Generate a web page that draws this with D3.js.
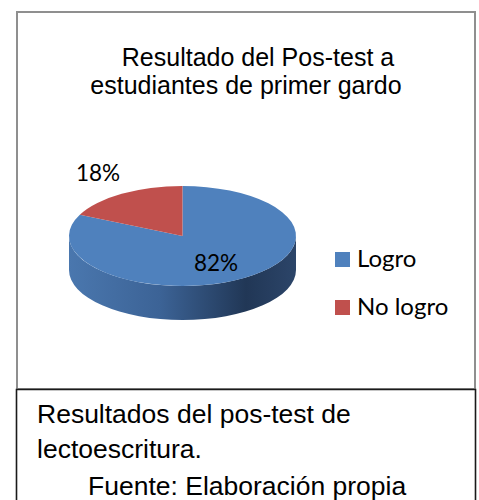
<!DOCTYPE html>
<html>
<head>
<meta charset="utf-8">
<script src="https://cdn.jsdelivr.net/npm/d3@7"></script>
<style>
  body { margin: 0; background: #fff; }
  svg { display: block; }
</style>
</head>
<body>
<div id="chart"></div>
<script>
// data
let categories = ["Logro", "No logro"];
let values = [82, 18];
let colors = ["#4F81BD", "#C0504D"];
let titleLines = ["Resultado del Pos-test a", "estudiantes de primer gardo"];
let captionLines = ["Resultados del pos-test de", "lectoescritura.", "Fuente: Elaboración propia"];

let width = 479, height = 500;

let svg = d3.select("#chart")
    .append("svg")
    .attr("width", width)
    .attr("height", height);

// chart frame and caption frame
svg.append("rect")
    .attr("x", 17).attr("y", 12)
    .attr("width", 458).attr("height", 377)
    .attr("fill", "none")
    .attr("stroke", "#8f8f8f")
    .attr("stroke-width", 2);

svg.append("path")
    .attr("d", "M16.5,505 V389.5 H475.5 V505")
    .attr("fill", "none")
    .attr("stroke", "#1a1a1a")
    .attr("stroke-width", 1.6);

// title
svg.selectAll(".title")
    .data(titleLines)
    .enter()
    .append("text")
    .attr("class", "title")
    .attr("x", (d, i) => i === 0 ? 258 : 246)
    .attr("y", (d, i) => 66 + i * 28)
    .style("text-anchor", "middle")
    .style("font-family", "'Liberation Sans', Arial, sans-serif")
    .style("font-size", "25px")
    .style("fill", "#000")
    .text(d => d);

// 3d pie
let cx = 182.5, cy = 236, rx = 113.5, ry = 50, depth = 34;

let pie = d3.pie().sort(null).value(d => d);
let arcs = pie(values);

function px(a) { return cx + rx * Math.sin(a); }
function py(a) { return cy - ry * Math.cos(a); }

let defs = svg.append("defs");
let grad = defs.append("linearGradient")
    .attr("id", "sideBlue")
    .attr("gradientUnits", "userSpaceOnUse")
    .attr("x1", cx - rx).attr("x2", cx + rx)
    .attr("y1", 0).attr("y2", 0);
[["0%", "#4a77ae"], ["40%", "#3c6396"], ["78%", "#213756"], ["100%", "#2c4569"]].forEach(s => {
    grad.append("stop").attr("offset", s[0]).attr("stop-color", s[1]);
});

let gradR = defs.append("linearGradient")
    .attr("id", "sideRed")
    .attr("gradientUnits", "userSpaceOnUse")
    .attr("x1", cx - rx).attr("x2", cx + rx)
    .attr("y1", 0).attr("y2", 0);
[["0%", "#b04a47"], ["100%", "#5e2523"]].forEach(s => {
    gradR.append("stop").attr("offset", s[0]).attr("stop-color", s[1]);
});

function sidePath(d) {
    let a0 = Math.max(d.startAngle, Math.PI / 2);
    let a1 = Math.min(d.endAngle, 3 * Math.PI / 2);
    if (a1 <= a0) return null;
    let large = (a1 - a0) > Math.PI ? 1 : 0;
    return `M${px(a0)},${py(a0)}` +
        ` A${rx},${ry} 0 ${large} 1 ${px(a1)},${py(a1)}` +
        ` L${px(a1)},${py(a1) + depth}` +
        ` A${rx},${ry} 0 ${large} 0 ${px(a0)},${py(a0) + depth} Z`;
}

function topPath(d) {
    let large = (d.endAngle - d.startAngle) > Math.PI ? 1 : 0;
    return `M${cx},${cy} L${px(d.startAngle)},${py(d.startAngle)}` +
        ` A${rx},${ry} 0 ${large} 1 ${px(d.endAngle)},${py(d.endAngle)} Z`;
}

svg.append("g").selectAll("path")
    .data(arcs.filter(d => sidePath(d)))
    .enter()
    .append("path")
    .attr("d", sidePath)
    .attr("fill", (d, i) => d.index === 0 ? "url(#sideBlue)" : "url(#sideRed)");

svg.append("g").selectAll("path")
    .data(arcs)
    .enter()
    .append("path")
    .attr("d", topPath)
    .attr("fill", d => colors[d.index]);

// percent labels
let labelPos = [[216, 271], [98, 181]];
svg.append("g").selectAll("text")
    .data(arcs)
    .enter()
    .append("text")
    .attr("x", d => labelPos[d.index][0])
    .attr("y", d => labelPos[d.index][1])
    .style("text-anchor", "middle")
    .style("font-family", "Lato, 'Open Sans', sans-serif")
    .style("font-size", "22.5px")
    .style("fill", "#000")
    .text(d => d.data + "%");

// legend
let ly = d3.scaleBand()
    .domain(categories)
    .range([244, 340])
    .padding(0);

let legend = svg.append("g").selectAll("g")
    .data(categories)
    .enter()
    .append("g")
    .attr("transform", d => `translate(335, ${ly(d)})`);

legend.append("rect")
    .attr("x", 0).attr("y", 8)
    .attr("width", 15).attr("height", 15)
    .attr("fill", (d, i) => colors[i]);

legend.append("text")
    .attr("x", 22).attr("y", 23)
    .style("font-family", "Lato, 'Open Sans', sans-serif")
    .style("font-size", "24px")
    .style("fill", "#000")
    .text(d => d);

// caption
let capX = [37, 37, 88];
let capY = [423, 458, 495];
svg.selectAll(".caption")
    .data(captionLines)
    .enter()
    .append("text")
    .attr("class", "caption")
    .attr("x", (d, i) => capX[i])
    .attr("y", (d, i) => capY[i])
    .style("font-family", "'Liberation Sans', Arial, sans-serif")
    .style("font-size", "26.5px")
    .style("fill", "#000")
    .text(d => d);
</script>
</body>
</html>
